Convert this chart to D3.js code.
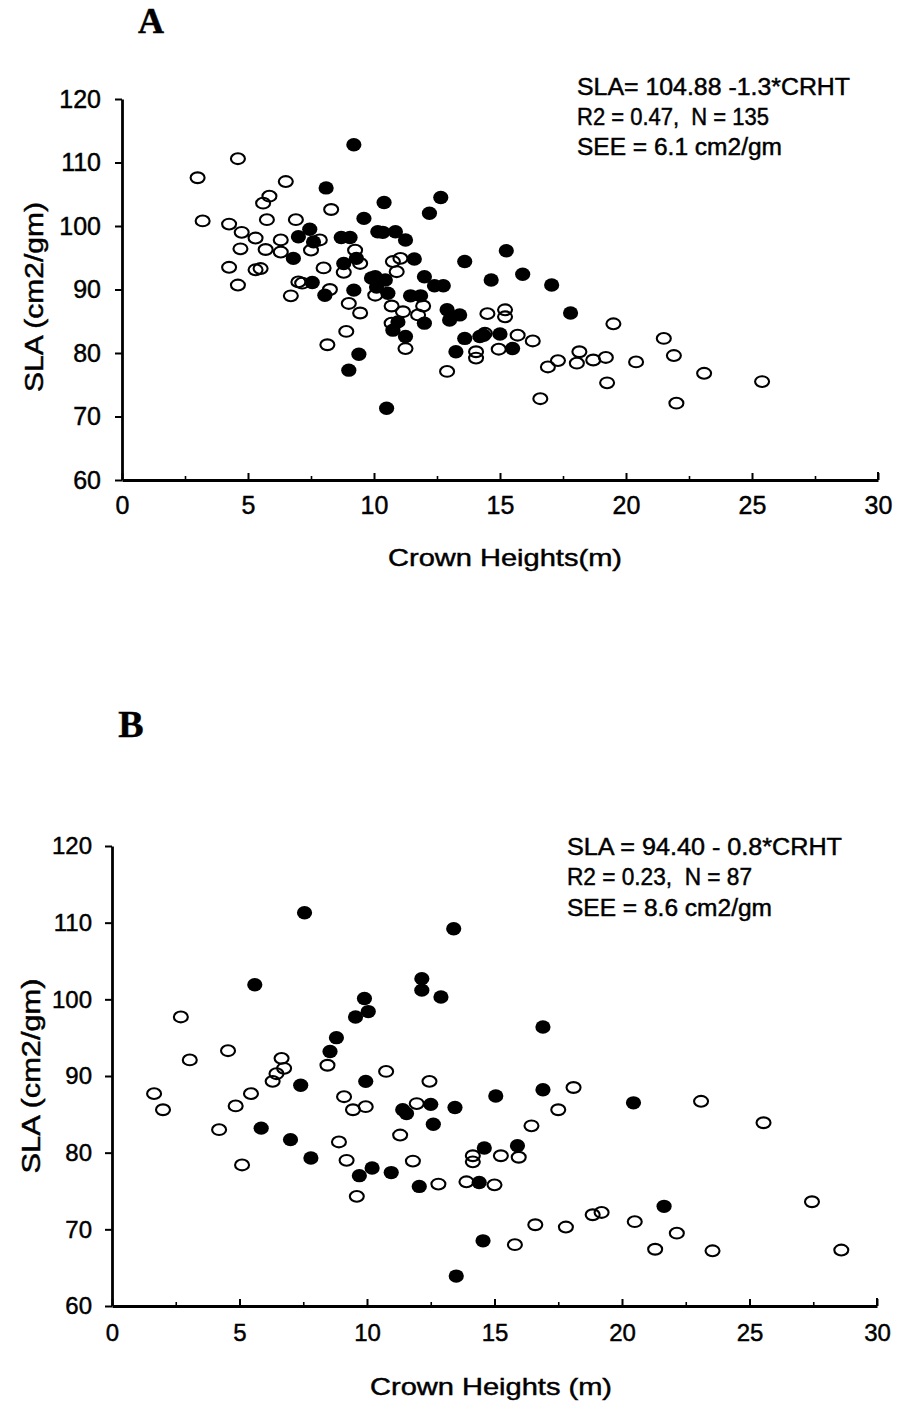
<!DOCTYPE html>
<html>
<head>
<meta charset="utf-8">
<script src="https://cdn.jsdelivr.net/npm/d3@7"></script>
<style>
  html, body { margin: 0; padding: 0; background: #fff; }
  svg { display: block; }
  text { font-family: "Liberation Sans", Arial, sans-serif; fill: #000; stroke: #000; stroke-width: 0.45px; white-space: pre; }
</style>
</head>
<body>
<svg id="chart" width="898" height="1401"></svg>
<script>
// ---------- DATA ----------
const xTicks = [0, 5, 10, 15, 20, 25, 30];
const xMinorTicks = [2.5, 7.5, 12.5, 17.5, 22.5, 27.5];
const yTicks = [60, 70, 80, 90, 100, 110, 120];

const panelLetters = ["A", "B"];
const xTitles = ["Crown Heights(m)", "Crown Heights (m)"];
const yTitle = "SLA (cm2/gm)";
const statsA = ["SLA= 104.88 -1.3*CRHT", "R2 = 0.47,  N = 135", "SEE = 6.1 cm2/gm"];
const statsB = ["SLA = 94.40 - 0.8*CRHT", "R2 = 0.23,  N = 87", "SEE = 8.6 cm2/gm"];

// Panel A: [crown height (m), SLA (cm2/gm)]
const panelA_open = [
  [3.0,107.6],[3.2,100.8],[4.6,110.6],[4.25,100.3],[4.25,93.5],[4.6,90.7],[4.75,99.0],[4.7,96.4],
  [5.3,98.1],[5.3,93.1],[5.5,93.3],[5.6,103.6],[5.85,104.7],[5.75,101.0],[5.7,96.3],[6.3,97.8],
  [6.3,95.9],[6.5,107.0],[6.7,89.0],[6.9,101.0],[7.0,91.2],[7.15,91.0],[7.5,96.2],[7.85,97.8],
  [8.0,93.4],[8.15,81.3],[8.25,90.0],[8.3,102.6],[8.8,92.7],[8.9,83.4],[9.0,87.8],[9.25,96.2],
  [9.45,94.1],[9.45,86.3],[10.05,89.1],[10.7,87.4],[10.7,84.7],[10.75,94.4],[10.9,92.8],[11.05,94.9],
  [11.15,86.5],[11.25,80.7],[11.75,86.0],[11.95,87.4],[12.9,77.1],[14.05,80.2],[14.05,79.2],[14.4,83.1],
  [14.5,86.2],[14.95,80.6],[15.2,86.8],[15.2,85.7],[15.7,82.8],[16.3,81.9],[16.6,72.8],[16.9,77.8],
  [17.3,78.8],[18.05,78.4],[18.15,80.2],[18.7,78.9],[19.2,79.3],[19.25,75.3],[19.5,84.6],[20.4,78.6],
  [21.5,82.3],[21.9,79.6],[22.0,72.1],[23.1,76.8],[25.4,75.5]
];
const panelA_filled = [
  [7.45,99.5],[7.0,98.3],[7.6,97.5],[6.8,94.9],[7.55,91.1],[8.05,89.1],[8.1,106.0],[8.7,98.2],
  [9.05,98.2],[8.8,94.1],[9.3,94.9],[9.2,89.9],[9.2,112.8],[9.6,101.2],[9.0,77.3],[9.4,79.8],
  [9.9,91.8],[10.05,92.0],[10.1,90.4],[10.45,91.5],[10.55,89.4],[10.4,103.7],[10.15,99.1],[10.35,99.0],
  [10.85,99.1],[11.25,97.8],[11.6,94.8],[10.95,84.9],[10.75,83.6],[11.25,82.6],[11.45,89.0],[11.85,89.0],
  [12.0,92.0],[12.0,84.7],[12.2,102.0],[12.4,90.6],[12.75,90.6],[12.65,104.5],[12.9,86.8],[13.0,85.2],
  [13.4,86.0],[13.25,80.2],[13.6,94.4],[13.6,82.3],[14.2,82.6],[14.35,82.8],[14.65,91.5],[15.0,83.0],
  [15.25,96.1],[15.5,80.7],[15.9,92.4],[17.05,90.7],[17.8,86.3],[10.5,71.3]
];

// Panel B
const panelB_open = [
  [2.7,97.7],[3.05,92.1],[4.55,93.3],[1.65,87.7],[2.0,85.6],[4.2,83.0],[5.1,78.4],[4.85,86.1],
  [5.45,87.7],[6.65,92.3],[6.75,91.0],[6.45,90.3],[6.3,89.3],[8.45,91.4],[9.1,87.3],[9.45,85.6],
  [9.95,86.0],[8.9,81.4],[9.2,79.0],[9.6,74.3],[10.75,90.6],[12.45,89.3],[11.95,86.4],[11.3,82.3],
  [11.8,78.9],[14.15,78.8],[14.15,79.6],[15.25,79.6],[15.95,79.4],[16.45,83.5],[17.5,85.6],[18.1,88.5],
  [12.8,75.9],[13.9,76.2],[15.0,75.8],[16.6,70.6],[15.8,68.0],[17.8,70.3],[18.85,71.9],[19.2,72.2],
  [23.1,86.7],[25.55,83.9],[27.45,73.6],[20.5,71.0],[22.15,69.5],[21.3,67.4],[23.55,67.2],[28.6,67.3]
];
const panelB_filled = [
  [7.55,111.3],[5.6,101.9],[9.9,100.1],[10.05,98.4],[9.55,97.7],[8.8,95.0],[8.55,93.2],[7.4,88.8],
  [9.95,89.3],[5.85,83.2],[7.0,81.7],[7.8,79.3],[10.2,78.0],[9.7,77.0],[13.4,109.2],[12.15,102.7],
  [12.15,101.2],[12.9,100.3],[16.9,96.4],[15.05,87.4],[16.9,88.2],[13.45,85.9],[12.5,86.3],[11.55,85.1],
  [11.4,85.6],[12.6,83.7],[14.6,80.6],[15.9,80.9],[10.95,77.4],[12.05,75.6],[14.4,76.1],[14.55,68.5],
  [13.5,63.9],[20.45,86.5],[21.65,73.0]
];

// ---------- LAYOUT ----------
const svg = d3.select("#chart");
svg.append("rect").attr("width", 898).attr("height", 1401).attr("fill", "#fff");

const panels = [
  {
    letter: panelLetters[0], letterX: 151, letterY: 33, letterSize: 36,
    x0: 122, x1: 878, yTop: 99, yBot: 480,
    open: panelA_open, filled: panelA_filled,
    stats: statsA, statsX: 577, statsY: [95, 125, 155], statsW: [273, 192, 205],
    xTitle: xTitles[0], xTitleX: 505, xTitleY: 566, xTitleW: 234,
    yTitleX: 43, yTitleY: 297, yTitleW: 190,
    yLabelPad: 14, xLabelPad: 16, fs: 25
  },
  {
    letter: panelLetters[1], letterX: 131, letterY: 737, letterSize: 38,
    x0: 112, x1: 877, yTop: 846, yBot: 1306,
    open: panelB_open, filled: panelB_filled,
    stats: statsB, statsX: 567, statsY: [855, 885, 916], statsW: [275, 185, 205],
    xTitle: xTitles[1], xTitleX: 491, xTitleY: 1395, xTitleW: 242,
    yTitleX: 40, yTitleY: 1076, yTitleW: 195,
    yLabelPad: 13, xLabelPad: 18, fs: 24
  }
];

panels.forEach(p => {
  const x = d3.scaleLinear().domain([0, 30]).range([p.x0, p.x1]);
  const y = d3.scaleLinear().domain([60, 120]).range([p.yBot, p.yTop]);
  const g = svg.append("g");

  // panel letter
  g.append("text")
    .attr("x", p.letterX).attr("y", p.letterY)
    .attr("text-anchor", "middle")
    .style("font-family", "'Liberation Serif', 'Times New Roman', serif")
    .style("font-weight", "bold")
    .style("font-size", p.letterSize + "px")
    .text(p.letter);

  // points
  g.append("g").selectAll("ellipse.open").data(p.open).join("ellipse")
    .attr("cx", d => x(d[0])).attr("cy", d => y(d[1]))
    .attr("rx", 7).attr("ry", 5.4)
    .attr("fill", "none")
    .attr("stroke", "#000").attr("stroke-width", 2.1);
  g.append("g").selectAll("ellipse.filled").data(p.filled).join("ellipse")
    .attr("cx", d => x(d[0])).attr("cy", d => y(d[1]))
    .attr("rx", 7.6).attr("ry", 6.7)
    .attr("fill", "#000");

  // x axis (inward ticks)
  const xAxis = d3.axisBottom(x).tickValues(xTicks).tickSize(-7).tickSizeOuter(0)
    .tickPadding(p.xLabelPad).tickFormat(d3.format("d"));
  const gx = g.append("g").attr("transform", `translate(0,${p.yBot})`).call(xAxis);
  gx.select(".domain").attr("stroke-width", 2.8);
  gx.selectAll(".tick line").attr("stroke-width", 2);
  gx.selectAll(".tick text").style("font-size", p.fs + "px").style("font-family", "'Liberation Sans', Arial, sans-serif");

  const xMinor = d3.axisBottom(x).tickValues(xMinorTicks).tickSize(-4).tickFormat("");
  const gxm = g.append("g").attr("transform", `translate(0,${p.yBot})`).call(xMinor);
  gxm.select(".domain").remove();
  gxm.selectAll(".tick line").attr("stroke-width", 1.6);

  // y axis (outward ticks)
  const yAxis = d3.axisLeft(y).tickValues(yTicks).tickSize(7).tickSizeOuter(0)
    .tickPadding(p.yLabelPad).tickFormat(d3.format("d"));
  const gy = g.append("g").attr("transform", `translate(${p.x0},0)`).call(yAxis);
  gy.select(".domain").attr("stroke-width", 2.8);
  gy.selectAll(".tick line").attr("stroke-width", 2);
  gy.selectAll(".tick text").style("font-size", p.fs + "px").style("font-family", "'Liberation Sans', Arial, sans-serif");

  // right-end tick of x axis
  g.append("line")
    .attr("x1", x(30)).attr("x2", x(30))
    .attr("y1", p.yBot).attr("y2", p.yBot - 8)
    .attr("stroke", "#000").attr("stroke-width", 2);

  // axis titles
  g.append("text")
    .attr("x", p.xTitleX).attr("y", p.xTitleY)
    .attr("text-anchor", "middle")
    .style("font-size", "24px")
    .attr("textLength", p.xTitleW).attr("lengthAdjust", "spacingAndGlyphs")
    .text(p.xTitle);
  g.append("text")
    .attr("transform", `translate(${p.yTitleX},${p.yTitleY}) rotate(-90)`)
    .attr("text-anchor", "middle")
    .style("font-size", "25px")
    .attr("textLength", p.yTitleW).attr("lengthAdjust", "spacingAndGlyphs")
    .text(yTitle);

  // regression stats
  p.stats.forEach((s, i) => {
    g.append("text")
      .attr("x", p.statsX).attr("y", p.statsY[i])
      .style("font-size", "23px")
      .attr("textLength", p.statsW[i]).attr("lengthAdjust", "spacingAndGlyphs")
      .text(s);
  });
});
</script>
</body>
</html>
